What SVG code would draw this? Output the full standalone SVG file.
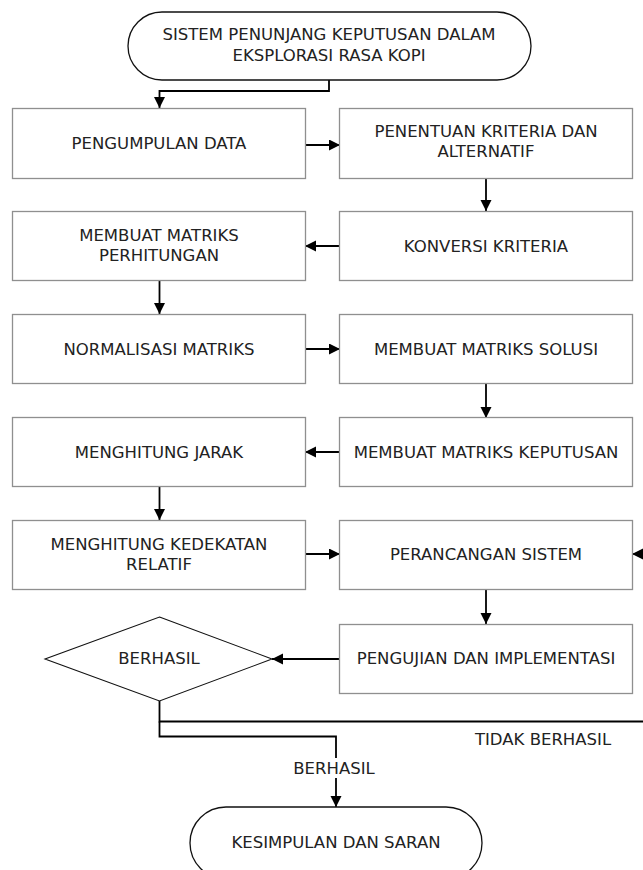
<svg xmlns="http://www.w3.org/2000/svg" width="643" height="870" viewBox="0 0 643 870">
<style>
text{font-family:"DejaVu Sans",Verdana,sans-serif;font-size:16.5px;fill:#222;text-anchor:middle}
.box{fill:#fff;stroke:#8f8f8f;stroke-width:1.3}
.term{fill:#fff;stroke:#111;stroke-width:1.3}
.dia{fill:#fff;stroke:#111;stroke-width:1.1}
.c{fill:none;stroke:#000;stroke-width:1.8}
</style>
<defs>
<marker id="ah" markerUnits="userSpaceOnUse" markerWidth="12" markerHeight="12" refX="11" refY="5.5" orient="auto">
<path d="M0,0 L11,5.5 L0,11 z" fill="#000"/>
</marker>
</defs>
<rect width="643" height="870" fill="#fff"/>
<g id="connectors">
<path class="c" d="M329,80 V91 H159.5 V108" marker-end="url(#ah)"/>
<path class="c" d="M305,145 H340" marker-end="url(#ah)"/>
<path class="c" d="M486,178 V211" marker-end="url(#ah)"/>
<path class="c" d="M340,246 H305" marker-end="url(#ah)"/>
<path class="c" d="M159.5,280 V314" marker-end="url(#ah)"/>
<path class="c" d="M305,349 H340" marker-end="url(#ah)"/>
<path class="c" d="M486,383 V418" marker-end="url(#ah)"/>
<path class="c" d="M340,452 H305" marker-end="url(#ah)"/>
<path class="c" d="M159.5,486 V520" marker-end="url(#ah)"/>
<path class="c" d="M305,554 H340" marker-end="url(#ah)"/>
<path class="c" d="M486,589 V624" marker-end="url(#ah)"/>
<path class="c" d="M340,659 H272" marker-end="url(#ah)"/>
<path class="c" d="M159.5,701 V721.5 H643"/>
<path class="c" d="M643,554 H632" marker-end="url(#ah)"/>
<path class="c" d="M159.5,721.5 V736.5 H336 V807" marker-end="url(#ah)"/>
<rect x="290" y="758" width="88" height="20" fill="#fff"/>
<text x="334" y="774">BERHASIL</text>
<text x="543" y="745">TIDAK BERHASIL</text>
</g>
<g id="start">
<rect class="term" x="128" y="12" width="403" height="68" rx="34" ry="34"/>
<text x="329" y="40">SISTEM PENUNJANG KEPUTUSAN DALAM</text>
<text x="329" y="61">EKSPLORASI RASA KOPI</text>
</g>
<g id="pengumpulan">
<rect class="box" x="12.5" y="108.5" width="293" height="70"/>
<text x="159" y="149">PENGUMPULAN DATA</text>
</g>
<g id="penentuan">
<rect class="box" x="339.5" y="108.5" width="293" height="70"/>
<text x="486" y="137">PENENTUAN KRITERIA DAN</text>
<text x="486" y="157">ALTERNATIF</text>
</g>
<g id="membuat-perhitungan">
<rect class="box" x="12.5" y="211.5" width="293" height="69"/>
<text x="159" y="241">MEMBUAT MATRIKS</text>
<text x="159" y="261">PERHITUNGAN</text>
</g>
<g id="konversi">
<rect class="box" x="339.5" y="211.5" width="293" height="69"/>
<text x="486" y="252">KONVERSI KRITERIA</text>
</g>
<g id="normalisasi">
<rect class="box" x="12.5" y="314.5" width="293" height="69"/>
<text x="159" y="355">NORMALISASI MATRIKS</text>
</g>
<g id="solusi">
<rect class="box" x="339.5" y="314.5" width="293" height="69"/>
<text x="486" y="355">MEMBUAT MATRIKS SOLUSI</text>
</g>
<g id="jarak">
<rect class="box" x="12.5" y="417.5" width="293" height="69"/>
<text x="159" y="458">MENGHITUNG JARAK</text>
</g>
<g id="keputusan">
<rect class="box" x="339.5" y="417.5" width="293" height="69"/>
<text x="486" y="458">MEMBUAT MATRIKS KEPUTUSAN</text>
</g>
<g id="kedekatan">
<rect class="box" x="12.5" y="520.5" width="293" height="69"/>
<text x="159" y="550">MENGHITUNG KEDEKATAN</text>
<text x="159" y="570">RELATIF</text>
</g>
<g id="perancangan">
<rect class="box" x="339.5" y="520.5" width="293" height="69"/>
<text x="486" y="560">PERANCANGAN SISTEM</text>
</g>
<g id="pengujian">
<rect class="box" x="339.5" y="624.5" width="293" height="69"/>
<text x="486" y="664">PENGUJIAN DAN IMPLEMENTASI</text>
</g>
<g id="berhasil">
<polygon class="dia" points="159.5,617 272,659 159.5,701 45,659"/>
<text x="159" y="664">BERHASIL</text>
</g>
<g id="end">
<rect class="term" x="190" y="807" width="292" height="72" rx="36" ry="36"/>
<text x="336" y="848">KESIMPULAN DAN SARAN</text>
</g>
</svg>
